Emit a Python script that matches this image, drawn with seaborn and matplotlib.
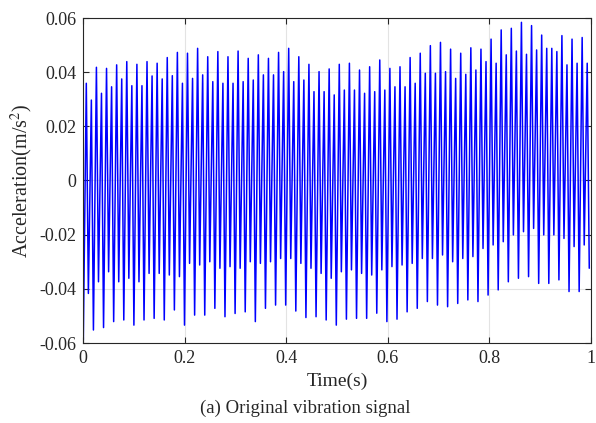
import numpy as np
import pandas as pd
import matplotlib
matplotlib.use("Agg")
import matplotlib.pyplot as plt
import seaborn as sns

# Trough (min) and peak (max) values of each oscillation
troughs = [
    -0.0589, -0.0417, -0.0552, -0.0374, -0.0543, -0.0337, -0.0521, -0.0374, -0.0515, -0.0361,
    -0.0534, -0.0374, -0.0515, -0.0343, -0.0509, -0.0343, -0.0515, -0.0349, -0.0478, -0.0355,
    -0.0534, -0.0306, -0.0497, -0.0312, -0.0497, -0.0300, -0.0472, -0.0324, -0.0503, -0.0318,
    -0.0491, -0.0324, -0.0485, -0.0300, -0.0521, -0.0306, -0.0472, -0.0300, -0.0460, -0.0288,
    -0.0460, -0.0288, -0.0482, -0.0306, -0.0506, -0.0324, -0.0503, -0.0343, -0.0515, -0.0361,
    -0.0534, -0.0337, -0.0512, -0.0330, -0.0509, -0.0343, -0.0509, -0.0349, -0.0490, -0.0330,
    -0.0521, -0.0318, -0.0512, -0.0312, -0.0485, -0.0306, -0.0472, -0.0288, -0.0447, -0.0288,
    -0.0460, -0.0275, -0.0466, -0.0300, -0.0454, -0.0288, -0.0441, -0.0281, -0.0447, -0.0251,
    -0.0423, -0.0238, -0.0404, -0.0226, -0.0374, -0.0201, -0.0361, -0.0189, -0.0355, -0.0177,
    -0.0380, -0.0201, -0.0380, -0.0201, -0.0367, -0.0214, -0.0410, -0.0244, -0.0410, -0.0238,
    -0.0324,
]
peaks = [
    0.0359, 0.0297, 0.0418, 0.0322, 0.0414, 0.0346, 0.0427, 0.0375, 0.0439, 0.0350,
    0.0429, 0.0350, 0.0439, 0.0386, 0.0433, 0.0375, 0.0454, 0.0387, 0.0473, 0.0359,
    0.0470, 0.0377, 0.0488, 0.0390, 0.0457, 0.0365, 0.0476, 0.0359, 0.0457, 0.0359,
    0.0478, 0.0365, 0.0451, 0.0371, 0.0464, 0.0390, 0.0451, 0.0390, 0.0473, 0.0402,
    0.0488, 0.0365, 0.0457, 0.0371, 0.0429, 0.0328, 0.0402, 0.0328, 0.0412, 0.0316,
    0.0429, 0.0334, 0.0433, 0.0334, 0.0408, 0.0322, 0.0420, 0.0328, 0.0445, 0.0334,
    0.0414, 0.0346, 0.0420, 0.0346, 0.0454, 0.0359, 0.0470, 0.0396, 0.0498, 0.0396,
    0.0510, 0.0402, 0.0485, 0.0377, 0.0470, 0.0392, 0.0490, 0.0408, 0.0485, 0.0439,
    0.0522, 0.0433, 0.0556, 0.0464, 0.0562, 0.0478, 0.0584, 0.0466, 0.0572, 0.0482,
    0.0537, 0.0488, 0.0488, 0.0476, 0.0535, 0.0427, 0.0522, 0.0433, 0.0528, 0.0433,
]
xtick_vals = [0, 0.2, 0.4, 0.6, 0.8, 1]
xtick_labels = ['0', '0.2', '0.4', '0.6', '0.8', '1']
ytick_vals = [-0.06, -0.04, -0.02, 0, 0.02, 0.04, 0.06]
ytick_labels = ['-0.06', '-0.04', '-0.02', '0', '0.02', '0.04', '0.06']

# regular time base: one trough and one peak per oscillation
dt = 0.00996
t_tr = 0.0006 + dt * np.arange(len(troughs))
t_pk = 0.0065 + dt * np.arange(len(peaks))
times, vals = [], []
for i in range(len(troughs)):
    times.append(t_tr[i]); vals.append(troughs[i])
    if i < len(peaks):
        times.append(t_pk[i]); vals.append(peaks[i])
df = pd.DataFrame({'Time': times, 'Acc': vals})

sns.set_style("ticks")
plt.rcParams['font.family'] = ['Liberation Serif', 'DejaVu Serif']
plt.rcParams['mathtext.fontset'] = 'stix'

fig = plt.figure(figsize=(5.96, 4.23), dpi=100)
ax = fig.add_axes([83 / 596, 1 - 343 / 423, 508 / 596, 325 / 423])

sns.lineplot(data=df, x='Time', y='Acc', sort=False, estimator=None,
             color='blue', lw=1.1, ax=ax)

ax.set_xlim(0, 1)
ax.set_ylim(-0.06, 0.06)
ax.set_xticks(xtick_vals)
ax.set_xticklabels(xtick_labels)
ax.set_yticks(ytick_vals)
ax.set_yticklabels(ytick_labels)
ax.tick_params(direction='in', top=True, right=True, length=4, width=0.8,
               labelsize=13, colors='#262626', pad=5)
ax.grid(True, color='#e3e3e3', lw=0.8)
for s in ax.spines.values():
    s.set_linewidth(0.8)
    s.set_color('#262626')

ax.set_xlabel('Time(s)', fontsize=14)
ax.xaxis.set_label_coords(0.5, (343 - 381) / 325)
ax.xaxis.label.set_va('center')
ax.set_ylabel('Acceleration(m/s$^2$)', fontsize=14.5)
ax.yaxis.set_label_coords((22 - 83) / 508, 0.5)
ax.yaxis.label.set_va('center')

fig.text(305 / 596, 1 - 408 / 423, '(a) Original vibration signal',
         ha='center', va='center', fontsize=13.5)

fig.savefig('out.png', dpi=100)
